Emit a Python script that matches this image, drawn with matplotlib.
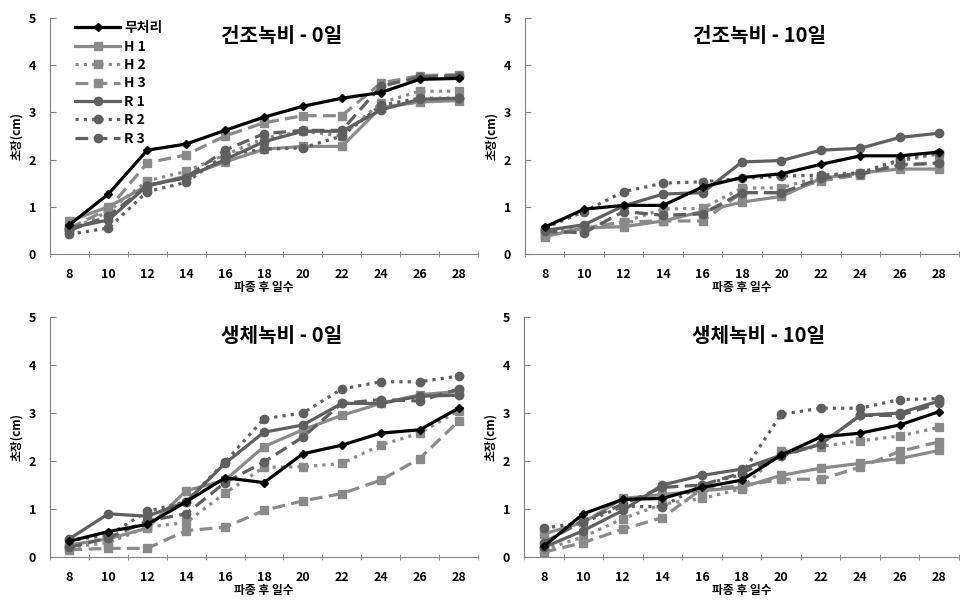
import matplotlib
matplotlib.use("Agg")
import matplotlib.pyplot as plt
import numpy as np

plt.rcParams['font.family'] = ['Noto Sans CJK KR', 'DejaVu Sans']

days = [8, 10, 12, 14, 16, 18, 20, 22, 24, 26, 28]
series_names = ["무처리", "H 1", "H 2", "H 3", "R 1", "R 2", "R 3"]

# 건조녹비 - 0일
dry0_ctrl = [0.62, 1.27, 2.2, 2.33, 2.62, 2.9, 3.13, 3.3, 3.42, 3.7, 3.72]
dry0_h1 = [0.7, 1.0, 1.45, 1.65, 1.95, 2.22, 2.28, 2.28, 3.1, 3.22, 3.25]
dry0_h2 = [0.5, 0.9, 1.55, 1.75, 2.1, 2.45, 2.6, 2.5, 3.2, 3.45, 3.45]
dry0_h3 = [0.55, 0.95, 1.93, 2.1, 2.5, 2.78, 2.93, 2.93, 3.62, 3.78, 3.8]
dry0_r1 = [0.55, 0.72, 1.45, 1.62, 2.0, 2.38, 2.6, 2.6, 3.05, 3.28, 3.3]
dry0_r2 = [0.42, 0.55, 1.32, 1.52, 2.1, 2.22, 2.25, 2.5, 3.15, 3.3, 3.3]
dry0_r3 = [0.5, 0.8, 1.45, 1.62, 2.2, 2.55, 2.62, 2.62, 3.55, 3.75, 3.78]

# 건조녹비 - 10일
dry10_ctrl = [0.57, 0.95, 1.03, 1.03, 1.42, 1.62, 1.7, 1.9, 2.08, 2.08, 2.16]
dry10_h1 = [0.37, 0.55, 0.58, 0.7, 0.9, 1.1, 1.22, 1.6, 1.72, 1.8, 1.8]
dry10_h2 = [0.45, 0.55, 0.68, 0.95, 0.97, 1.4, 1.4, 1.65, 1.7, 1.97, 2.12]
dry10_h3 = [0.4, 0.55, 0.68, 0.7, 0.7, 1.3, 1.3, 1.55, 1.68, 1.9, 1.92]
dry10_r1 = [0.5, 0.62, 1.02, 1.27, 1.3, 1.95, 1.98, 2.2, 2.24, 2.47, 2.56]
dry10_r2 = [0.55, 0.9, 1.32, 1.5, 1.53, 1.6, 1.65, 1.67, 1.72, 2.0, 2.15]
dry10_r3 = [0.48, 0.45, 0.9, 0.82, 0.85, 1.3, 1.3, 1.6, 1.7, 1.88, 1.93]

# 생체녹비 - 0일
fresh0_ctrl = [0.33, 0.53, 0.68, 1.15, 1.65, 1.55, 2.15, 2.33, 2.58, 2.65, 3.1]
fresh0_h1 = [0.25, 0.38, 0.6, 1.38, 1.6, 2.3, 2.65, 2.95, 3.2, 3.38, 3.45]
fresh0_h2 = [0.2, 0.3, 0.62, 0.72, 1.33, 1.87, 1.88, 1.95, 2.33, 2.58, 3.05]
fresh0_h3 = [0.15, 0.18, 0.18, 0.55, 0.62, 0.97, 1.17, 1.32, 1.6, 2.05, 2.83]
fresh0_r1 = [0.38, 0.9, 0.85, 1.15, 1.95, 2.6, 2.75, 3.2, 3.2, 3.35, 3.37]
fresh0_r2 = [0.35, 0.45, 0.95, 1.15, 1.98, 2.88, 3.0, 3.5, 3.65, 3.65, 3.77]
fresh0_r3 = [0.2, 0.4, 0.75, 0.9, 1.55, 1.98, 2.5, 3.2, 3.28, 3.25, 3.5]

# 생체녹비 - 10일
fresh10_ctrl = [0.22, 0.9, 1.2, 1.22, 1.45, 1.6, 2.12, 2.5, 2.58, 2.75, 3.03]
fresh10_h1 = [0.48, 0.72, 1.22, 1.3, 1.38, 1.45, 1.7, 1.85, 1.95, 2.05, 2.22]
fresh10_h2 = [0.15, 0.42, 0.8, 1.1, 1.22, 1.42, 2.2, 2.3, 2.42, 2.52, 2.7]
fresh10_h3 = [0.1, 0.3, 0.58, 0.82, 1.42, 1.48, 1.62, 1.62, 1.87, 2.2, 2.4]
fresh10_r1 = [0.2, 0.55, 0.97, 1.5, 1.7, 1.83, 2.12, 2.35, 2.95, 3.0, 3.25]
fresh10_r2 = [0.6, 0.72, 1.05, 1.05, 1.5, 1.72, 2.97, 3.1, 3.1, 3.28, 3.3]
fresh10_r3 = [0.3, 0.75, 1.1, 1.45, 1.5, 1.75, 2.1, 2.35, 2.95, 2.95, 3.2]

panels = [
    ("건조녹비 - 0일", [dry0_ctrl, dry0_h1, dry0_h2, dry0_h3, dry0_r1, dry0_r2, dry0_r3]),
    ("건조녹비 - 10일", [dry10_ctrl, dry10_h1, dry10_h2, dry10_h3, dry10_r1, dry10_r2, dry10_r3]),
    ("생체녹비 - 0일", [fresh0_ctrl, fresh0_h1, fresh0_h2, fresh0_h3, fresh0_r1, fresh0_r2, fresh0_r3]),
    ("생체녹비 - 10일", [fresh10_ctrl, fresh10_h1, fresh10_h2, fresh10_h3, fresh10_r1, fresh10_r2, fresh10_r3]),
]

light = '#8a8a8a'
dark = '#5f5f5f'
styles = [
    dict(color='black', marker='D', ms=4.5, ls='-', lw=2.3, zorder=5),
    dict(color=light, marker='s', ms=6, ls='-', lw=2.3),
    dict(color=light, marker='s', ms=6, ls=(0, (1, 1.6)), lw=2.3),
    dict(color=light, marker='s', ms=6, ls=(0, (4, 2)), lw=2.3),
    dict(color=dark, marker='o', ms=6, ls='-', lw=2.3),
    dict(color=dark, marker='o', ms=6, ls=(0, (1, 1.6)), lw=2.3),
    dict(color=dark, marker='o', ms=6, ls=(0, (4, 2)), lw=2.3),
]

# axes positions [left, bottom, width, height] in figure fraction
positions = [
    [50/975, 1-254/604, 428/975, 236/604],
    [525/975, 1-254/604, 434/975, 236/604],
    [50/975, 1-557/604, 428/975, 240/604],
    [524/975, 1-557/604, 435/975, 240/604],
]

fig = plt.figure(figsize=(9.75, 6.04), dpi=100)
x = np.arange(len(days))

for idx, (title, data) in enumerate(panels):
    ax = fig.add_axes(positions[idx])
    lines = []
    for vals, st in zip(data, styles):
        ln, = ax.plot(x, vals, **st)
        lines.append(ln)
    ax.set_xlim(-0.5, len(days) - 0.5)
    ax.set_ylim(0, 5)
    ax.set_yticks([0, 1, 2, 3, 4, 5])
    ax.set_xticks(x)
    ax.set_xticklabels([str(d) for d in days])
    ax.set_xticks(np.arange(-0.5, len(days) + 0.5, 1), minor=True)
    ax.tick_params(axis='x', which='major', length=0, pad=10, labelsize=9)
    ax.tick_params(axis='x', which='minor', length=4, direction='inout', color='#808080')
    ax.tick_params(axis='y', which='major', length=4, direction='in', color='#808080', labelsize=9, pad=10)
    for lab in ax.get_xticklabels() + ax.get_yticklabels():
        lab.set_fontweight('bold')
    for s in ['top', 'right']:
        ax.spines[s].set_visible(False)
    for s in ['left', 'bottom']:
        ax.spines[s].set_color('#808080')
    ax.set_xlabel("파종 후 일수", fontsize=8.5, fontweight='bold', labelpad=0)
    ax.set_ylabel("초장(cm)", fontsize=8.5, fontweight='bold', labelpad=4)
    ax.text(0.54, 0.925, title, transform=ax.transAxes, ha='center', va='center',
            fontsize=14.5, fontweight='bold')
    if idx == 0:
        ax.legend(lines, series_names, loc='upper left', bbox_to_anchor=(0.03, 1.04),
                  frameon=False, handlelength=3.2, handletextpad=0.3,
                  labelspacing=0.32, prop={'weight': 'bold', 'size': 10})

fig.savefig("out.png", dpi=100)
